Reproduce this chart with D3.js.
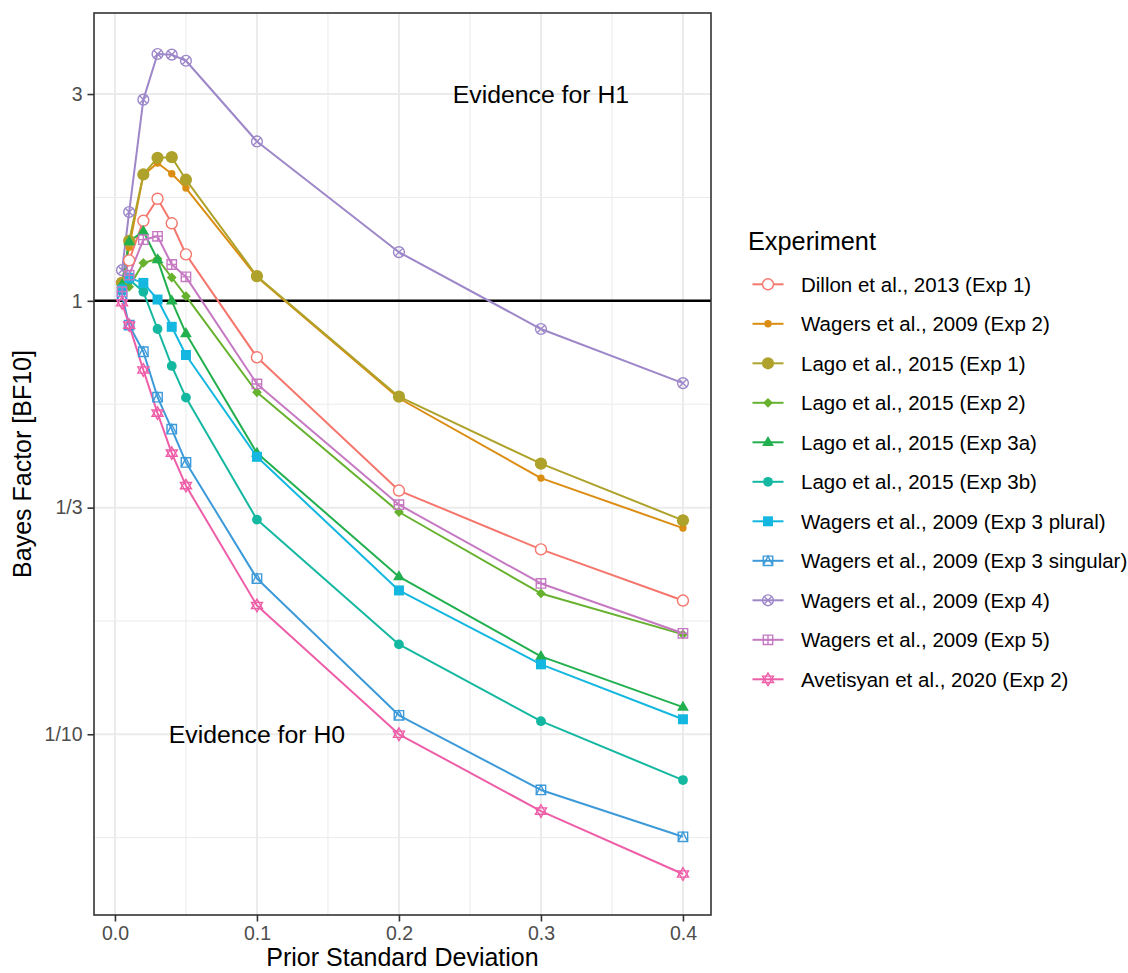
<!DOCTYPE html>
<html>
<head>
<meta charset="utf-8">
<script src="https://cdn.jsdelivr.net/npm/d3@7"></script>
<style>
  body { margin: 0; background: white; }
  text { font-family: "Liberation Sans", Arial, Helvetica, sans-serif; }
</style>
</head>
<body>
<div id="chart"></div>
<script>
// prior standard deviations (x)
var priorSD = [0.005, 0.01, 0.02, 0.03, 0.04, 0.05, 0.1, 0.2, 0.3, 0.4];

var experiments = [
  "Dillon et al., 2013 (Exp 1)",
  "Wagers et al., 2009 (Exp 2)",
  "Lago et al., 2015 (Exp 1)",
  "Lago et al., 2015 (Exp 2)",
  "Lago et al., 2015 (Exp 3a)",
  "Lago et al., 2015 (Exp 3b)",
  "Wagers et al., 2009 (Exp 3 plural)",
  "Wagers et al., 2009 (Exp 3 singular)",
  "Wagers et al., 2009 (Exp 4)",
  "Wagers et al., 2009 (Exp 5)",
  "Avetisyan et al., 2020 (Exp 2)"
];

// Bayes factors, one array per experiment
var dillon13   = [1.10, 1.24, 1.53, 1.72, 1.51, 1.28, 0.741, 0.365, 0.267, 0.2035];
var wagers09e2 = [1.09, 1.33, 1.95, 2.08, 1.965, 1.82, 1.135, 0.596, 0.390, 0.299];
var lago15e1   = [1.10, 1.375, 1.957, 2.138, 2.145, 1.903, 1.14, 0.601, 0.421, 0.3116];
var lago15e2   = [1.06, 1.077, 1.223, 1.25, 1.132, 1.025, 0.615, 0.3257, 0.2113, 0.170];
var lago15e3a  = [1.09, 1.37, 1.447, 1.245, 1.0, 0.841, 0.4454, 0.231, 0.1513, 0.1155];
var lago15e3b  = [1.07, 1.12, 1.049, 0.861, 0.7077, 0.598, 0.3128, 0.1612, 0.1072, 0.0784];
var wagers09e3p = [1.06, 1.13, 1.10, 1.007, 0.871, 0.75, 0.4367, 0.2147, 0.145, 0.1083];
var wagers09e3s = [1.03, 0.879, 0.763, 0.5993, 0.5058, 0.4238, 0.2287, 0.1106, 0.0744, 0.058];
var wagers09e4 = [1.177, 1.603, 2.912, 3.711, 3.698, 3.58, 2.332, 1.295, 0.861, 0.646];
var wagers09e5 = [1.05, 1.146, 1.384, 1.409, 1.213, 1.136, 0.643, 0.3386, 0.2228, 0.171];
var avetisyan20 = [0.99, 0.879, 0.6925, 0.5506, 0.4454, 0.3746, 0.1982, 0.1, 0.0665, 0.0476];

var seriesValues = [dillon13, wagers09e2, lago15e1, lago15e2, lago15e3a, lago15e3b,
  wagers09e3p, wagers09e3s, wagers09e4, wagers09e5, avetisyan20];

// ggplot shape codes per experiment
var shapes = [21, 20, 19, 18, 17, 16, 15, 14, 13, 12, 11];
var colors = ["#F5766C", "#DB8D12", "#AEA22A", "#66B12E", "#22B04F", "#14B8A0",
  "#13B7DF", "#3D9AD9", "#9D87C9", "#C679C3", "#EE5EA8"];

var yBreaks = [0.1, 1 / 3, 1, 3];
var yLabels = ["1/10", "1/3", "1", "3"];
var xBreaks = [0, 0.1, 0.2, 0.3, 0.4];

var annotations = [
  { x: 0.3, y: 3, label: "Evidence for H1" },
  { x: 0.1, y: 0.1, label: "Evidence for H0" }
];

var W = 1128, H = 973;
var panel = { left: 94, right: 711, top: 13, bottom: 915 };

var data = experiments.map(function (name, i) {
  return {
    name: name, color: colors[i], shape: shapes[i],
    values: priorSD.map(function (x, j) { return { x: x, y: seriesValues[i][j] }; })
  };
});

// scales with ggplot-like 5% expansion
var xExt = d3.extent(priorSD);
var xPad = (xExt[1] - xExt[0]) * 0.05;
var x = d3.scaleLinear()
  .domain([xExt[0] - xPad, xExt[1] + xPad])
  .range([panel.left, panel.right]);

var allY = d3.merge(seriesValues).map(function (v) { return Math.log10(v); });
var lyExt = d3.extent(allY);
var lyPad = (lyExt[1] - lyExt[0]) * 0.05;
var y = d3.scaleLog()
  .domain([Math.pow(10, lyExt[0] - lyPad), Math.pow(10, lyExt[1] + lyPad)])
  .range([panel.bottom, panel.top]);

var svg = d3.select("#chart").append("svg")
  .attr("width", W).attr("height", H);

svg.append("rect").attr("width", W).attr("height", H).attr("fill", "white");

var clip = svg.append("defs").append("clipPath").attr("id", "clip")
  .append("rect")
  .attr("x", panel.left).attr("y", panel.top)
  .attr("width", panel.right - panel.left).attr("height", panel.bottom - panel.top);

var grid = svg.append("g");

// minor gridlines (midpoints between breaks in transformed space)
var xMinor = [0.05, 0.15, 0.25, 0.35];
var logBreaks = [1 / 30].concat(yBreaks).concat([9]).map(function (v) { return Math.log10(v); });
var yMinor = [];
for (var i = 0; i < logBreaks.length - 1; i++) {
  yMinor.push(Math.pow(10, (logBreaks[i] + logBreaks[i + 1]) / 2));
}
yMinor = yMinor.filter(function (v) { return v > y.domain()[0] && v < y.domain()[1]; });

grid.selectAll(".xminor").data(xMinor).enter().append("line")
  .attr("x1", d => x(d)).attr("x2", d => x(d))
  .attr("y1", panel.top).attr("y2", panel.bottom)
  .attr("stroke", "#ebebeb").attr("stroke-width", 1);
grid.selectAll(".yminor").data(yMinor).enter().append("line")
  .attr("y1", d => y(d)).attr("y2", d => y(d))
  .attr("x1", panel.left).attr("x2", panel.right)
  .attr("stroke", "#ebebeb").attr("stroke-width", 1);
grid.selectAll(".xmajor").data(xBreaks).enter().append("line")
  .attr("x1", d => x(d)).attr("x2", d => x(d))
  .attr("y1", panel.top).attr("y2", panel.bottom)
  .attr("stroke", "#ebebeb").attr("stroke-width", 2);
grid.selectAll(".ymajor").data(yBreaks).enter().append("line")
  .attr("y1", d => y(d)).attr("y2", d => y(d))
  .attr("x1", panel.left).attr("x2", panel.right)
  .attr("stroke", "#ebebeb").attr("stroke-width", 2);

var plot = svg.append("g").attr("clip-path", "url(#clip)");

// reference line at BF = 1
plot.append("line")
  .attr("x1", panel.left).attr("x2", panel.right)
  .attr("y1", y(1)).attr("y2", y(1))
  .attr("stroke", "black").attr("stroke-width", 2.5);

// annotations
svg.selectAll(".anno").data(annotations).enter().append("text")
  .attr("x", d => x(d.x)).attr("y", d => y(d.y))
  .attr("text-anchor", "middle")
  .attr("dominant-baseline", "central")
  .style("font-size", "24.8px")
  .attr("fill", "black")
  .text(d => d.label);

var line = d3.line().x(d => x(d.x)).y(d => y(d.y));

plot.selectAll(".series").data(data).enter().append("path")
  .attr("fill", "none")
  .attr("stroke", d => d.color)
  .attr("stroke-width", 2)
  .attr("stroke-linejoin", "round")
  .attr("d", d => line(d.values));

// marker shapes, paths drawn around (0,0)
function marker(g, code, color) {
  var sw = 1.4;
  function circ(r, filled) {
    g.append("circle").attr("r", r)
      .attr("fill", filled ? color : "white")
      .attr("stroke", color).attr("stroke-width", filled ? 0 : sw);
  }
  function path(d, filled) {
    g.append("path").attr("d", d)
      .attr("fill", filled ? color : "none")
      .attr("stroke", color).attr("stroke-width", filled ? 0 : sw)
      .attr("stroke-linejoin", "miter");
  }
  var s = 4.7;
  switch (code) {
    case 21: circ(5.5, false); break;
    case 20: circ(3.7, true); break;
    case 19: circ(6.1, true); break;
    case 18: path("M0,-4.9L4.9,0L0,4.9L-4.9,0Z", true); break;
    case 17: path("M0,-6.4L5.9,3.7L-5.9,3.7Z", true); break;
    case 16: circ(4.9, true); break;
    case 15: path("M-5,-5H5V5H-5Z", true); break;
    case 14:
      path("M" + -s + "," + -s + "H" + s + "V" + s + "H" + -s + "Z", false);
      path("M" + -s + "," + s + "L0," + -s + "L" + s + "," + s, false);
      break;
    case 13:
      g.append("circle").attr("r", 5.4).attr("fill", "none")
        .attr("stroke", color).attr("stroke-width", sw);
      path("M-3.8,-3.8L3.8,3.8M-3.8,3.8L3.8,-3.8", false);
      break;
    case 12:
      path("M" + -s + "," + -s + "H" + s + "V" + s + "H" + -s + "Z", false);
      path("M0," + -s + "V" + s + "M" + -s + ",0H" + s, false);
      break;
    case 11:
      path("M0,-6.3L5.5,3.15L-5.5,3.15Z", false);
      path("M0,6.3L5.5,-3.15L-5.5,-3.15Z", false);
      break;
  }
}

data.forEach(function (s) {
  s.values.forEach(function (p) {
    var g = plot.append("g").attr("transform", "translate(" + x(p.x) + "," + y(p.y) + ")");
    marker(g, s.shape, s.color);
  });
});

// panel border
svg.append("rect")
  .attr("x", panel.left).attr("y", panel.top)
  .attr("width", panel.right - panel.left).attr("height", panel.bottom - panel.top)
  .attr("fill", "none").attr("stroke", "#333333").attr("stroke-width", 1.6);

// axes
var xAxis = svg.append("g")
  .attr("transform", "translate(0," + panel.bottom + ")")
  .call(d3.axisBottom(x).tickValues(xBreaks).tickFormat(d3.format(".1f"))
    .tickSizeInner(6.5).tickSizeOuter(0).tickPadding(5));
var yAxis = svg.append("g")
  .attr("transform", "translate(" + panel.left + ",0)")
  .call(d3.axisLeft(y).tickValues(yBreaks).tickFormat((d, i) => yLabels[i])
    .tickSizeInner(6.5).tickSizeOuter(0).tickPadding(5));

[xAxis, yAxis].forEach(function (a) {
  a.select(".domain").remove();
  a.selectAll(".tick line").attr("stroke", "#333333").attr("stroke-width", 1.6);
  a.selectAll(".tick text").attr("fill", "#4d4d4d")
    .style("font-size", "19.5px")
    .style("font-family", "'Liberation Sans', Arial, Helvetica, sans-serif");
});

// axis titles
svg.append("text")
  .attr("x", (panel.left + panel.right) / 2).attr("y", 966)
  .attr("text-anchor", "middle")
  .style("font-size", "25px")
  .text("Prior Standard Deviation");

svg.append("text")
  .attr("transform", "translate(31," + (panel.top + panel.bottom) / 2 + ") rotate(-90)")
  .attr("text-anchor", "middle")
  .style("font-size", "25px")
  .text("Bayes Factor [BF10]");

// legend
var legend = svg.append("g").attr("transform", "translate(748,0)");
legend.append("text")
  .attr("x", 0).attr("y", 250)
  .style("font-size", "25.3px")
  .text("Experiment");

var rows = legend.selectAll(".row").data(data).enter().append("g")
  .attr("transform", (d, i) => "translate(0," + (284.3 + i * 39.5) + ")");
rows.append("line")
  .attr("x1", 4.5).attr("x2", 35.5)
  .attr("stroke", d => d.color).attr("stroke-width", 2);
rows.each(function (d) {
  var g = d3.select(this).append("g").attr("transform", "translate(20,0)");
  marker(g, d.shape, d.color);
});
rows.append("text")
  .attr("x", 53).attr("y", 0)
  .attr("dominant-baseline", "central")
  .style("font-size", "20.5px")
  .text(d => d.name);
</script>
</body>
</html>
